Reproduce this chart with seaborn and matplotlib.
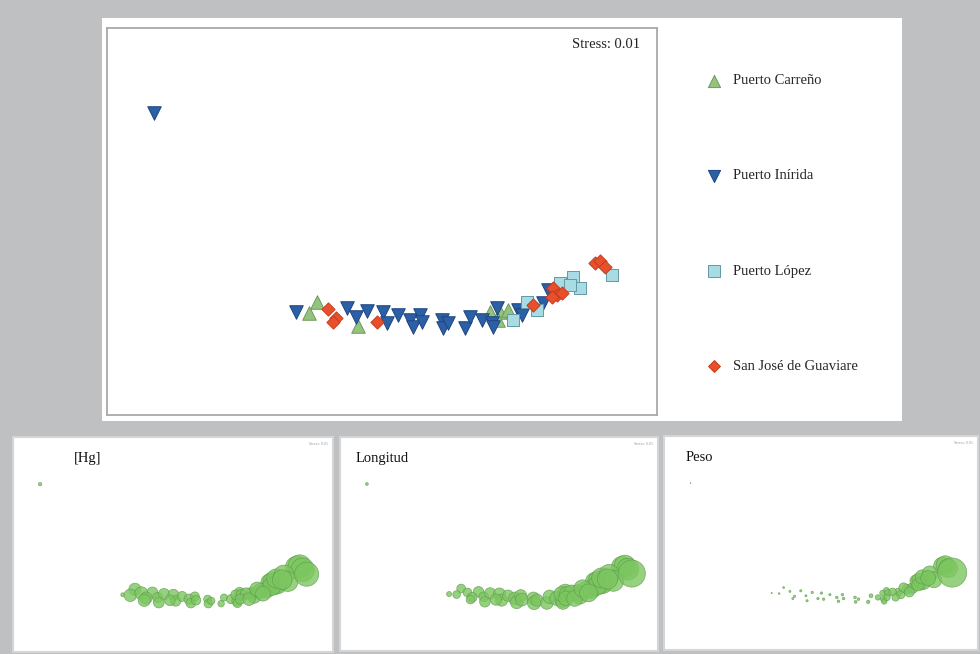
import numpy as np
import pandas as pd
import matplotlib
matplotlib.use("Agg")
import matplotlib.pyplot as plt
import matplotlib.patches as mpatches
import seaborn as sns

# MDS ordination, one entry per fish
site = (["Puerto Inírida"] * 25 + ["Puerto Carreño"] * 7
        + ["San José de Guaviare"] * 12 + ["Puerto López"] * 8)
mds1 = [-1.746, -0.971, -0.693, -0.644, -0.584, -0.496, -0.475, -0.415, -0.349, -0.333,
        -0.295, -0.284, -0.175, -0.169, -0.142, -0.049, -0.022, 0.044, 0.098, 0.125,
        0.104, 0.240, 0.262, 0.376, 0.404,
        -0.857, -0.900, -0.633, 0.087, 0.142, 0.185, 0.131,
        -0.797, -0.753, -0.769, -0.529, 0.322, 0.431, 0.453, 0.480, 0.426, 0.660, 0.687, 0.715,
        0.213, 0.289, 0.344, 0.469, 0.540, 0.578, 0.524, 0.753]
mds2 = [1.069, -0.011, 0.011, -0.038, -0.005, -0.011, -0.071, -0.027, -0.054, -0.092,
        -0.027, -0.065, -0.054, -0.098, -0.071, -0.098, -0.038, -0.054, -0.071, 0.011,
        -0.092, 0.000, -0.027, 0.038, 0.109,
        0.043, -0.016, -0.087, -0.011, -0.011, 0.000, -0.054,
        0.005, -0.043, -0.065, -0.065, 0.027, 0.119, 0.081, 0.092, 0.071, 0.255, 0.266, 0.233,
        -0.054, 0.043, 0.000, 0.147, 0.179, 0.119, 0.136, 0.190]
hg = [0.05, 0.06, 0.30, 0.26, 0.32, 0.30, 0.28, 0.25, 0.27, 0.24,
      0.21, 0.23, 0.17, 0.19, 0.15, 0.12, 0.14, 0.22, 0.25, 0.27,
      0.21, 0.40, 0.45, 0.65, 0.70,
      0.36, 0.38, 0.29, 0.24, 0.29, 0.33, 0.26,
      0.40, 0.36, 0.37, 0.28, 0.55, 0.82, 0.80, 0.86, 0.78, 1.20, 1.25, 1.30,
      0.38, 0.50, 0.53, 0.88, 0.98, 0.93, 0.90, 1.35]
longitud = [20, 21, 26, 25, 27, 28, 28, 27, 29, 29,
            28, 29, 29, 30, 28, 29, 30, 31, 32, 33,
            31, 35, 36, 39, 40,
            24, 23, 26, 32, 33, 34, 32,
            24, 25, 24, 27, 37, 41, 40, 42, 40, 45, 46, 47,
            34, 37, 38, 43, 44, 45, 43, 62]
peso = [40, 42, 52, 50, 53, 54, 55, 52, 56, 57,
        55, 57, 58, 60, 57, 70, 80, 120, 140, 160,
        130, 200, 230, 350, 400,
        48, 46, 52, 120, 170, 200, 150,
        50, 51, 50, 54, 300, 520, 480, 560, 470, 900, 950, 1000,
        190, 280, 320, 600, 700, 750, 650, 2400]

df = pd.DataFrame({"site": site, "MDS1": mds1, "MDS2": mds2,
                   "Hg": hg, "Longitud": longitud, "Peso": peso})

order = ["Puerto Carreño", "Puerto Inírida", "Puerto López", "San José de Guaviare"]
fills = {"Puerto Carreño": "#93c47d", "Puerto Inírida": "#2b5fa6",
         "Puerto López": "#a8dbe4", "San José de Guaviare": "#e8502c"}
edges = {"Puerto Carreño": "#6b9a5c", "Puerto Inírida": "#1e4580",
         "Puerto López": "#5f9aa6", "San José de Guaviare": "#c43d1f"}
marks = {"Puerto Carreño": "^", "Puerto Inírida": "v",
         "Puerto López": "s", "San José de Guaviare": "D"}
msize = {"Puerto Carreño": 95, "Puerto Inírida": 95,
         "Puerto López": 80, "San José de Guaviare": 45}

sns.set_style("white")
plt.rcParams["font.family"] = ["Liberation Serif", "DejaVu Serif"]

fig = plt.figure(figsize=(9.8, 6.54), dpi=100)
fig.patch.set_facecolor("#bfc0c2")
W, H = 980.0, 654.0

def box(x0, y0, x1, y1):
    return [x0 / W, 1 - y1 / H, (x1 - x0) / W, (y1 - y0) / H]

# white card behind the main ordination + legend
fig.patches.append(mpatches.Rectangle((102 / W, 1 - 421 / H), 800 / W, 403 / H,
                                      transform=fig.transFigure, facecolor="white",
                                      edgecolor="none", zorder=-5))

xlim = (-2.0, 1.0)
ylim = (-0.57, 1.53)

ax = fig.add_axes(box(107, 28, 657, 415))
ax.set_facecolor("white")
for s in order:
    sub = df[df.site == s]
    sns.scatterplot(data=sub, x="MDS1", y="MDS2", ax=ax, marker=marks[s],
                    color=fills[s], edgecolor=edges[s], linewidth=0.7,
                    s=msize[s], label=s, zorder=3)
ax.set_xlim(*xlim)
ax.set_ylim(*ylim)
ax.set_xticks([])
ax.set_yticks([])
ax.set_xlabel("")
ax.set_ylabel("")
for sp in ax.spines.values():
    sp.set_color("#a9a9a9")
    sp.set_linewidth(1.3)
ax.text(0.969, 0.958, "Stress: 0.01", transform=ax.transAxes, ha="right",
        va="center", fontsize=10.5, color="#222222")

handles, labels = ax.get_legend_handles_labels()
ax.get_legend().remove()
fig.legend(handles, labels, loc="upper left", bbox_to_anchor=(694 / W, 1 - 61 / H),
           frameon=False, fontsize=10.5, labelspacing=5.62, handletextpad=0.75,
           handlelength=1.0, markerscale=0.9)

# bubble versions of the same ordination
panels = [("Hg", "[Hg]", (13, 437, 333, 652), (6, 300), 0.19),
          ("Longitud", "Longitud", (340, 437, 658, 651), (4, 380), 0.05),
          ("Peso", "Peso", (664, 436, 978, 650), (0.3, 440), 0.07)]
for col, title, (x0, y0, x1, y1), rng, tx in panels:
    bx = fig.add_axes(box(x0, y0, x1, y1))
    bx.set_facecolor("white")
    sns.scatterplot(data=df, x="MDS1", y="MDS2", size=col, sizes=rng, ax=bx,
                    color="#7cc660", edgecolor="#5f9a4e", linewidth=0.5,
                    alpha=0.8, legend=False)
    bx.set_xlim(*xlim)
    bx.set_ylim(*ylim)
    bx.set_xticks([])
    bx.set_yticks([])
    bx.set_xlabel("")
    bx.set_ylabel("")
    for sp in bx.spines.values():
        sp.set_color("#d4d5d7")
        sp.set_linewidth(1.5)
    bx.text(tx, 0.9, title, transform=bx.transAxes, ha="left", va="center",
            fontsize=10.5, color="#111111")
    bx.text(0.985, 0.975, "Stress: 0.01", transform=bx.transAxes, ha="right",
            va="top", fontsize=3, color="#999999")

fig.savefig("out.png", dpi=100, facecolor=fig.get_facecolor())
